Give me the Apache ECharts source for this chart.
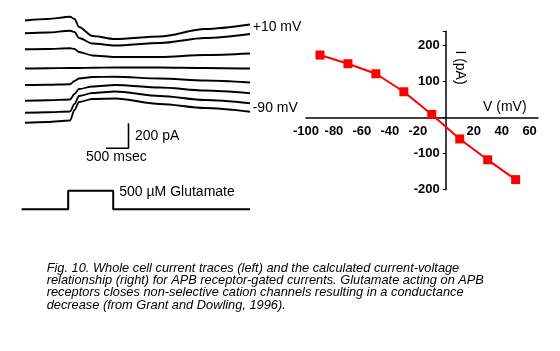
<!DOCTYPE html>
<html>
<head>
<meta charset="utf-8">
<script src="https://cdn.jsdelivr.net/npm/echarts@6/dist/echarts.min.js"></script>
<style>
html, body { margin: 0; padding: 0; background: #fff; }
#main { width: 560px; height: 351px; }
</style>
</head>
<body>
<div id="main"></div>
<script>
// whole cell current traces, sampled at these times (msec)
var traceTimes = [0, 500, 1000, 1100, 1200, 1500, 2000, 3000, 4000, 5000];
// currents (pA), each trace already offset for stacking, top = +10 mV, bottom = -90 mV
var traces = [
	[876, 888, 906, 888, 824, 752, 728, 748, 808, 844],
	[774, 780, 794, 784, 736, 692, 676, 696, 736, 768],
	[646, 648, 654, 648, 624, 596, 584, 584, 600, 612],
	[492, 494, 496, 496, 496, 498, 500, 500, 496, 492],
	[360, 362, 366, 392, 412, 424, 426, 412, 396, 380],
	[234, 238, 244, 288, 328, 348, 360, 340, 316, 294],
	[138, 142, 148, 208, 272, 296, 308, 272, 240, 214],
	[58, 64, 76, 160, 224, 248, 252, 208, 176, 146]
];
// glutamate application (0 = off, 1 = on)
var stimTimes = [-75, 960, 960, 1960, 1960, 5000];
var stimLevel = [0, 0, 1, 1, 0, 0];
// scale bar: 500 msec, 200 pA
var scaleTimes = [1800, 2300, 2300];
var scaleCurrents = [-146, -146, 54];

// current-voltage relation
var voltages = [-90, -70, -50, -30, -10, 10, 30, 50];
var currents = [174, 150, 122, 72, 9, -59, -117, -172];

var font = 'Liberation Sans, Arial, sans-serif';

// I-V plot box
var ivGrid = { left: 306, top: 31.3, width: 232, height: 158.4 };
var vMin = -100, vMax = 66, iMin = -200, iMax = 240;
// shift the axes so they cross at (0, 0)
var yAxisShift = -(0 - vMin) / (vMax - vMin) * ivGrid.width;
var xAxisShift = -(0 - iMin) / (iMax - iMin) * ivGrid.height;

var myChart = echarts.init(document.getElementById('main'));

function pairs(xs, ys) {
	return xs.map(function(x, i) { return [x, ys[i]]; });
}

var series = traces.map(function(tr) {
	return {
		type: 'line',
		xAxisIndex: 0,
		yAxisIndex: 0,
		data: pairs(traceTimes, tr),
		symbol: 'none',
		smooth: 0.3,
		smoothMonotone: 'x',
		lineStyle: { color: '#000', width: 1.8 }
	};
});
series.push({
	type: 'line',
	xAxisIndex: 0,
	yAxisIndex: 0,
	data: pairs(scaleTimes, scaleCurrents),
	symbol: 'none',
	lineStyle: { color: '#000', width: 1.6 }
});
series.push({
	type: 'line',
	xAxisIndex: 1,
	yAxisIndex: 1,
	data: pairs(stimTimes, stimLevel),
	symbol: 'none',
	clip: false,
	lineStyle: { color: '#000', width: 2 }
});
series.push({
	type: 'line',
	xAxisIndex: 2,
	yAxisIndex: 2,
	data: pairs(voltages, currents),
	symbol: 'rect',
	symbolSize: 9,
	itemStyle: { color: '#ff0000' },
	lineStyle: { color: '#ff0000', width: 2 }
});

var option = {
	animation: false,
	backgroundColor: '#fff',
	grid: [
		{ left: 20.5, top: 0, width: 229.5, height: 150 },
		{ left: 20.5, top: 190.7, width: 229.5, height: 18.6 },
		ivGrid
	],
	xAxis: [
		{ gridIndex: 0, type: 'value', min: -100, max: 5000, show: false },
		{ gridIndex: 1, type: 'value', min: -100, max: 5000, show: false },
		{
			gridIndex: 2, type: 'value', min: vMin, max: vMax, interval: 20,
			position: 'bottom', offset: xAxisShift,
			splitLine: { show: false },
			axisLine: { onZero: false, lineStyle: { color: '#000', width: 1.5 } },
			axisTick: { show: false },
			axisLabel: {
				margin: 7, color: '#000', fontSize: 13, fontWeight: 'bold', fontFamily: font,
				formatter: function(v) { return (v === 0 || v % 20 !== 0) ? '' : String(v); }
			}
		}
	],
	yAxis: [
		{ gridIndex: 0, type: 'value', min: -160, max: 1040, show: false },
		{ gridIndex: 1, type: 'value', min: 0, max: 1, show: false },
		{
			gridIndex: 2, type: 'value', min: iMin, max: iMax, interval: 100,
			position: 'left', offset: yAxisShift,
			splitLine: { show: false },
			axisLine: { onZero: false, lineStyle: { color: '#000', width: 1.5 } },
			axisTick: { show: true, length: 3, lineStyle: { color: '#000' } },
			axisLabel: {
				margin: 6, color: '#000', fontSize: 13, fontWeight: 'bold', fontFamily: font,
				formatter: function(v) { return (v === 0 || v % 100 !== 0) ? '' : String(v); }
			}
		}
	],
	graphic: [
		{ type: 'text', left: 252.7, top: 20.5, style: { text: '+10 mV', fontSize: 14, fontFamily: font, fill: '#000' } },
		{ type: 'text', left: 252.7, top: 101, style: { text: '-90 mV', fontSize: 14, fontFamily: font, fill: '#000' } },
		{ type: 'text', left: 135, top: 129, style: { text: '200 pA', fontSize: 14, fontFamily: font, fill: '#000' } },
		{ type: 'text', left: 86, top: 150, style: { text: '500 msec', fontSize: 14, fontFamily: font, fill: '#000' } },
		{ type: 'text', left: 119.3, top: 185, style: { text: '500 \u00b5M Glutamate', fontSize: 14, fontFamily: font, fill: '#000' } },
		{ type: 'text', left: 483, top: 100.5, style: { text: 'V (mV)', fontSize: 14, fontFamily: font, fill: '#000' } },
		{
			type: 'text', x: 460, y: 67.5, rotation: -Math.PI / 2,
			style: { text: 'I (pA)', fontSize: 14, fontFamily: font, fill: '#000', align: 'center', verticalAlign: 'middle' }
		},
		{
			type: 'text', left: 46.7, top: 262,
			style: {
				text: 'Fig. 10. Whole cell current traces (left) and the calculated current-voltage\n' +
					'relationship (right) for APB receptor-gated currents. Glutamate acting on APB\n' +
					'receptors closes non-selective cation channels resulting in a conductance\n' +
					'decrease (from Grant and Dowling, 1996).',
				fontSize: 12.8, fontStyle: 'italic', fontFamily: font, fill: '#000', lineHeight: 12.2
			}
		}
	],
	series: series
};

myChart.setOption(option);
</script>
</body>
</html>
